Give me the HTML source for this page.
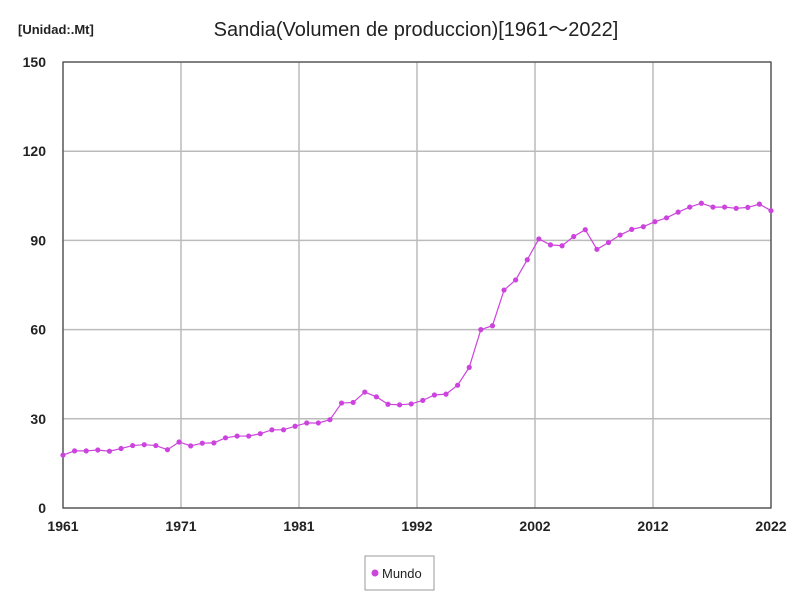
<!DOCTYPE html>
<html><head><meta charset="utf-8"><style>
body{margin:0;background:#fff;font-family:"Liberation Sans","Noto Sans CJK JP",sans-serif}
</style></head><body>
<svg id="c" width="800" height="600" xmlns="http://www.w3.org/2000/svg" font-family="'Liberation Sans','Noto Sans CJK JP',sans-serif">
<rect width="800" height="600" fill="#fff"/>
<text x="416" y="36" text-anchor="middle" font-size="20" fill="#222">Sandia(Volumen de produccion)[1961～2022]</text>
<text x="18" y="34" font-size="13" font-weight="bold" fill="#222">[Unidad:.Mt]</text>
<g id="grid"></g><g id="ticks"></g>
<rect x="63" y="62" width="708" height="446" fill="none" stroke="#444" stroke-width="1.2"/>
<g id="series"></g>
<g>
<rect x="365" y="556" width="69" height="34" fill="#fff" stroke="#999"/>
<circle cx="375" cy="573" r="3.5" fill="#cc44dd"/>
<text x="382" y="578" font-size="13" fill="#222">Mundo</text>
</g>
</svg>
<script>
const years=[];for(let y=1961;y<=2022;y++)years.push(y);
const values=[17.8,19.2,19.2,19.5,19.1,20,21,21.3,21,19.6,22.2,20.9,21.8,21.9,23.6,24.2,24.2,25,26.3,26.3,27.5,28.6,28.6,29.7,35.3,35.5,39,37.4,34.9,34.7,35,36.2,38,38.3,41.3,47.3,60,61.3,73.3,76.7,83.5,90.5,88.5,88.2,91.3,93.6,87,89.3,91.8,93.7,94.6,96.3,97.6,99.5,101.2,102.5,101.2,101.2,100.8,101.1,102.2,100];
const yTicks=[0,30,60,90,120,150];
const xTicks=[1961,1971,1981,1992,2002,2012,2022];
const NS="http://www.w3.org/2000/svg";
const X0=63,X1=771,Y0=508,Y1=62;
const xs=v=>X0+(v-1961)/(2022-1961)*(X1-X0);
const ys=v=>Y0-v/150*(Y0-Y1);
function mk(t,a,p){const e=document.createElementNS(NS,t);for(const k in a)e.setAttribute(k,a[k]);p.appendChild(e);return e;}
const g=document.getElementById('grid'),tk=document.getElementById('ticks'),s=document.getElementById('series');
yTicks.forEach(v=>{
 const l=mk('line',{x1:X0,x2:X1,y1:ys(v),y2:ys(v),stroke:'#bbb','stroke-width':1.5},g);
 
 
 const t=mk('text',{x:X0-17,y:ys(v)+5,'text-anchor':'end','font-size':14,'font-weight':'bold',fill:'#222'},tk);
 t.textContent=v;
 
 
});
xTicks.forEach((v,i)=>{
 const px=X0+i*(X1-X0)/(xTicks.length-1);
 const l=mk('line',{x1:px,x2:px,y1:Y1,y2:Y0,stroke:'#bbb','stroke-width':1.5},g);
 
 
 const t=mk('text',{x:px,y:Y0+23,'text-anchor':'middle','font-size':14,'font-weight':'bold',fill:'#222'},tk);
 t.textContent=v;
 
 
});
const pl=mk('polyline',{points:values.map((v,i)=>xs(years[i])+','+ys(v)).join(' '),fill:'none',stroke:'#cc44dd','stroke-width':1.2},s);


values.forEach((v,i)=>{
 const c=mk('circle',{cx:xs(years[i]),cy:ys(v),r:2.6,fill:'#cc44dd'},s);
 
 
});
</script>
</body></html>
